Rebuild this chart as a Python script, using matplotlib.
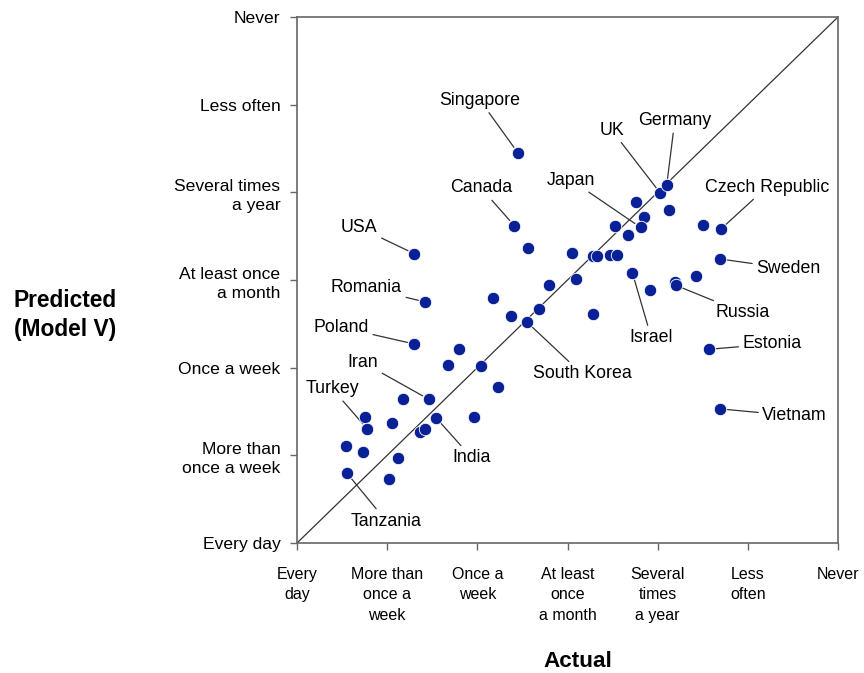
import numpy as np
import matplotlib
matplotlib.use("Agg")
import matplotlib.pyplot as plt

plt.rcParams['font.family'] = ['Liberation Sans', 'DejaVu Sans']

# frequency scale, 0 = every day ... 6 = never
y_levels = ['Every day', 'More than\nonce a week', 'Once a week', 'At least once\na month',
            'Several times\na year', 'Less often', 'Never']
x_levels = ['Every\nday', 'More than\nonce a\nweek', 'Once a\nweek', 'At least\nonce\na month',
            'Several\ntimes\na year', 'Less\noften', 'Never']

# unlabelled countries
actual = [1.67, 2.04, 2.23, 1.18, 0.75, 0.78, 1.05, 1.36, 1.42, 1.96, 0.54, 0.73, 1.12,
          1.02, 2.56, 2.79, 2.17, 2.68, 2.37, 1.80, 3.76, 4.13, 3.85, 3.53, 3.67, 3.05,
          3.28, 3.33, 3.47, 3.55, 4.50, 4.42, 4.19, 3.91, 3.09, 3.28]
predicted = [2.03, 2.02, 1.78, 1.64, 1.44, 1.30, 1.37, 1.27, 1.30, 1.44, 1.11, 1.04, 0.97,
             0.73, 3.36, 2.94, 2.79, 2.67, 2.59, 2.21, 3.89, 3.80, 3.72, 3.62, 3.51, 3.31,
             3.27, 3.27, 3.29, 3.29, 3.63, 3.05, 2.98, 2.89, 3.01, 2.61]

# labelled countries: name, actual, predicted, label x, label y
countries = ['Singapore', 'UK', 'Germany', 'Japan', 'Canada', 'Czech Republic', 'USA',
             'Sweden', 'Romania', 'Russia', 'Poland', 'Israel', 'Estonia', 'Iran',
             'South Korea', 'Turkey', 'Vietnam', 'India', 'Tanzania']
c_actual = [2.45, 4.03, 4.10, 3.81, 2.41, 4.70, 1.30, 4.69, 1.42, 4.20, 1.30, 3.72, 4.57,
            1.46, 2.55, 0.78, 4.69, 1.54, 0.55]
c_pred = [4.45, 3.99, 4.08, 3.60, 3.62, 3.58, 3.30, 3.24, 2.75, 2.94, 2.27, 3.08, 2.21,
          1.64, 2.52, 1.30, 1.53, 1.43, 0.80]
label_x = [2.03, 3.49, 4.19, 3.04, 2.04, 5.21, 0.69, 5.45, 0.77, 4.94, 0.49, 3.93, 5.27,
           0.73, 3.16, 0.39, 5.52, 1.94, 0.99]
label_y = [5.05, 4.71, 4.82, 4.14, 4.05, 4.06, 3.60, 3.13, 2.91, 2.63, 2.46, 2.34, 2.27,
           2.06, 1.93, 1.76, 1.45, 0.97, 0.25]

dot = '#0a2096'

fig = plt.figure(figsize=(8.64, 6.73), dpi=100)
ax = fig.add_axes([0.3438, 0.1932, 0.6261, 0.7815])

ax.plot([0, 6], [0, 6], color='#333333', lw=0.9, zorder=1)
ax.scatter(actual + c_actual, predicted + c_pred, s=80, color=dot,
           edgecolors='white', linewidths=0.6, zorder=3)

for name, xa, yp, lx, ly in zip(countries, c_actual, c_pred, label_x, label_y):
    ax.annotate(name, xy=(xa, yp), xytext=(lx, ly), ha='center', va='center',
                fontsize=12.8, zorder=2,
                arrowprops=dict(arrowstyle='-', color='#333333', lw=0.9,
                                shrinkA=1, shrinkB=5))

ax.set_xlim(0, 6)
ax.set_ylim(0, 6)
ax.set_xticks(range(7))
ax.set_yticks(range(7))
ax.set_xticklabels(x_levels, fontsize=11.5, linespacing=1.48)
ax.set_yticklabels(y_levels, fontsize=12.6, linespacing=1.38)
ax.tick_params(direction='out', length=5, color='#666666', width=1)
ax.tick_params(axis='x', pad=12)
ax.tick_params(axis='y', pad=7)
for sp in ax.spines.values():
    sp.set_color('#666666')
    sp.set_linewidth(1.2)

fig.text(0.075, 0.532, 'Predicted\n(Model V)', fontsize=16.4, fontweight='bold',
         ha='center', va='center', linespacing=1.35)
fig.text(0.669, 0.017, 'Actual', fontsize=16.2, fontweight='bold', ha='center', va='center')

fig.savefig('out.png', dpi=100)
